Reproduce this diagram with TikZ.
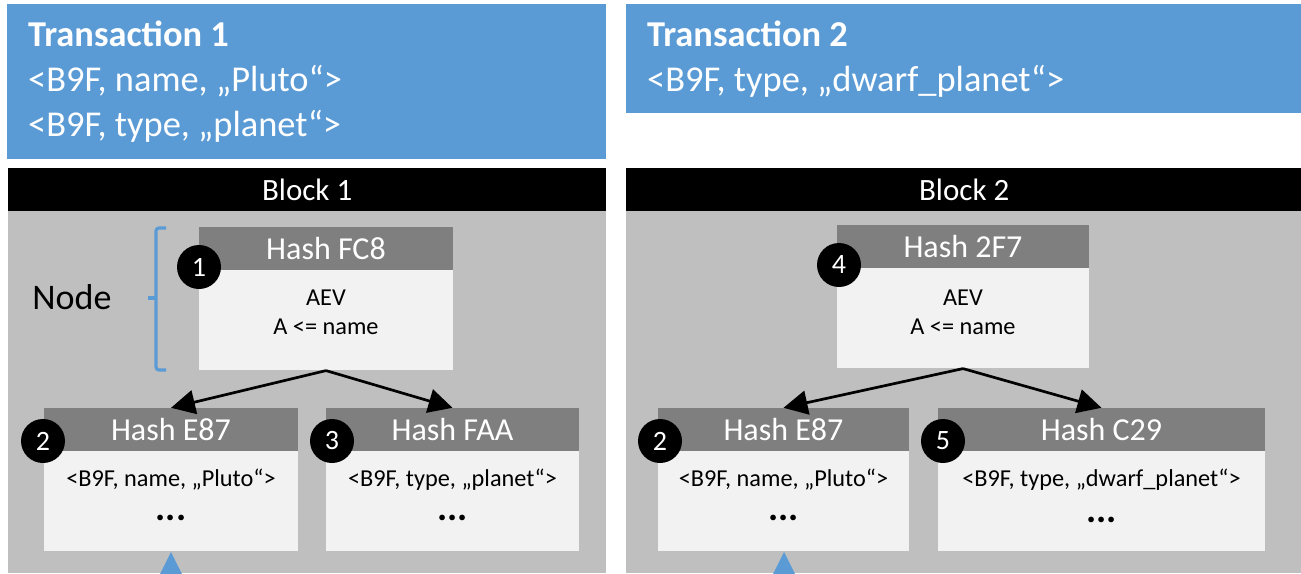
\documentclass[tikz,border=0pt]{standalone}
\usepackage{fontspec}
\setmainfont{Carlito}
\usetikzlibrary{arrows.meta}
\definecolor{txblue}{HTML}{5B9BD5}
\definecolor{panelgray}{HTML}{BFBFBF}
\definecolor{headgray}{HTML}{7F7F7F}
\definecolor{bodygray}{HTML}{F2F2F2}
\tikzset{
  txbox/.style={fill=txblue, draw=none, inner sep=0pt},
  txtext/.style={text=white, align=left, anchor=west, inner sep=0pt, font=\fontsize{36.4}{45}\selectfont},
  blockhead/.style={fill=black, draw=none, inner sep=0pt, text=white, font=\fontsize{31}{36}\selectfont},
  panel/.style={fill=panelgray, draw=none, inner sep=0pt},
  hashhead/.style={fill=headgray, draw=none, inner sep=0pt, minimum height=43pt, text=white, font=\fontsize{32}{36}\selectfont},
  hashbody/.style={fill=bodygray, draw=none, inner sep=0pt, minimum height=100pt},
  bodytext/.style={inner sep=0pt, align=center, font=\fontsize{24.3}{29}\selectfont},
  dots/.style={inner sep=0pt, text height=6pt, text depth=0pt, font=\fontsize{38}{40}\selectfont\bfseries},
  numcirc/.style={circle, fill=black, draw=none, minimum size=44pt, inner sep=0pt, text=white, font=\fontsize{28}{30}\selectfont},
  treearrow/.style={draw=black, line width=2.7pt, -{Triangle[length=24pt,width=24pt]}},
}
\begin{document}
\begin{tikzpicture}[x=1pt,y=-1pt]
\useasboundingbox (0,0) rectangle (1301,573);
\fill[white] (0,0) rectangle (1301,573);

% Transactions
\node[txbox, minimum width=599pt, minimum height=155pt] (tx1) at (306.5,81) {};
\node[txtext] (tx1t) at (28,82) {\textbf{Transaction 1}\\<B9F, name, „Pluto“>\\<B9F, type, „planet“>};
\node[txbox, minimum width=675pt, minimum height=109pt] (tx2) at (963.5,58.5) {};
\node[txtext] (tx2t) at (647,59.5) {\textbf{Transaction 2}\\<B9F, type, „dwarf\_planet“>};

% Panels
\begin{scope}
\clip (0,0) rectangle (1301,573);
\node[panel, minimum width=598pt, minimum height=363pt, anchor=north west] (p1) at (8,210) {};
\node[panel, minimum width=676pt, minimum height=363pt, anchor=north west] (p2) at (626,210) {};
\fill[txblue] (171,552) -- (157,580) -- (185,580) -- cycle;
\fill[txblue] (784,552) -- (770,580) -- (798,580) -- cycle;
\end{scope}
\node[blockhead, minimum width=598pt, minimum height=43pt, anchor=north west] (bh1) at (8,168) {Block 1};
\node[blockhead, minimum width=676pt, minimum height=43pt, anchor=north west] (bh2) at (626,168) {Block 2};

% Block 1 nodes
\node[hashhead, minimum width=254pt] (h1) at (326,248.5) {Hash FC8};
\node[hashbody, minimum width=254pt, anchor=north] (b1) at (h1.south) {};
\node[bodytext] (t1) at (326,312.5) {AEV\\A <= name};

\node[hashhead, minimum width=254pt] (h2) at (171,429.5) {Hash E87};
\node[hashbody, minimum width=254pt, anchor=north] (b2) at (h2.south) {};
\node[bodytext] (t2) at (171,480) {<B9F, name, „Pluto“>};
\node[dots] (d2) at (171,517) {...};

\node[hashhead, minimum width=253pt] (h3) at (452.5,429.5) {Hash FAA};
\node[hashbody, minimum width=253pt, anchor=north] (b3) at (h3.south) {};
\node[bodytext] (t3) at (452.5,480) {<B9F, type, „planet“>};
\node[dots] (d3) at (452.5,517) {...};

\node[numcirc] (c1) at (199,267) {1};
\node[numcirc] (c2) at (43,441) {2};
\node[numcirc] (c3) at (332,441) {3};

\draw[treearrow] (b1.south) -- (h2.north);
\draw[treearrow] (b1.south) -- (h3.north);

% Node bracket
\node[inner sep=0pt, font=\fontsize{36}{40}\selectfont] (nodelbl) at (72,297) {Node};
\coordinate (brtop) at (166,228);
\coordinate (brbot) at (166,370);
\draw[txblue, line width=3.2pt, rounded corners=3pt] (brtop) -- (156,228) -- (156,370) -- (brbot);
\draw[txblue, line width=3.2pt] (156,298) -- (148,298);

% Block 2 nodes
\node[hashhead, minimum width=252pt] (h4) at (963,246.5) {Hash 2F7};
\node[hashbody, minimum width=252pt, anchor=north] (b4) at (h4.south) {};
\node[bodytext] (t4) at (963,312.5) {AEV\\A <= name};

\node[hashhead, minimum width=251pt] (h5) at (783.5,429.5) {Hash E87};
\node[hashbody, minimum width=251pt, anchor=north] (b5) at (h5.south) {};
\node[bodytext] (t5) at (783.5,480) {<B9F, name, „Pluto“>};
\node[dots] (d5) at (783.5,517) {...};

\node[hashhead, minimum width=327pt] (h6) at (1101.5,429.5) {Hash C29};
\node[hashbody, minimum width=327pt, anchor=north] (b6) at (h6.south) {};
\node[bodytext] (t6) at (1101.5,480) {<B9F, type, „dwarf\_planet“>};
\node[dots] (d6) at (1101.5,519) {...};

\node[numcirc] (c4) at (839,265) {4};
\node[numcirc] (c5) at (660,441) {2};
\node[numcirc] (c6) at (943,441) {5};

\draw[treearrow] (b4.south) -- (h5.north);
\draw[treearrow] (b4.south) -- (h6.north);
\end{tikzpicture}
\end{document}
